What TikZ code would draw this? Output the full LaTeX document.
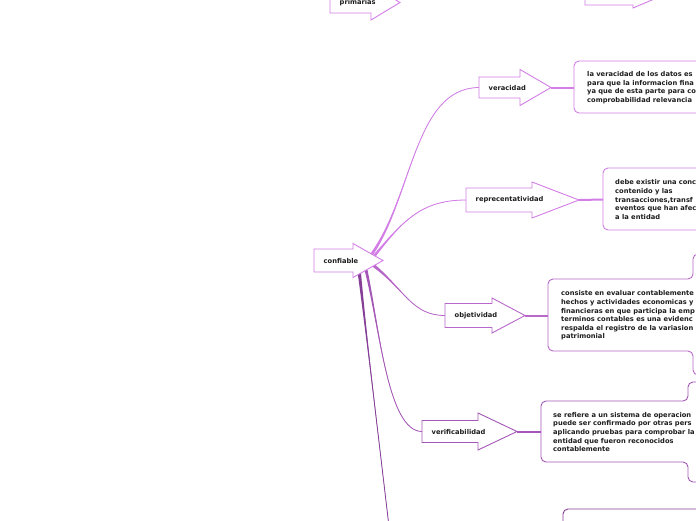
\documentclass[tikz,border=0pt]{standalone}
\usepackage{fontspec}
\newfontfamily\lblfont{DejaVu Sans}
\usetikzlibrary{calc}
\pgfdeclarelayer{bg}
\pgfsetlayers{bg,main}
\definecolor{cA}{HTML}{D27EE6}
\definecolor{cB}{HTML}{B868C8}
\definecolor{cC}{HTML}{A457B6}
\definecolor{cD}{HTML}{853F96}
\definecolor{txt}{HTML}{1E1E1E}
\tikzset{
 lbl/.style={font=\lblfont\bfseries\fontsize{6.7}{8.6}\selectfont, text=txt, inner sep=0pt, anchor=west, align=left},
 shp/.style={line width=0.9pt, fill=white, line join=miter},
 boxline/.style={line width=0.9pt, rounded corners=5pt},
 stub/.style={line width=2pt},
}
\newcommand\arrowbox[9]{%
 \draw[shp, draw=#2] (#3,#6-#7) -- (#4,#6-#7) -- (#4,#6-#8) -- (#5,#6) -- (#4,#6+#8) -- (#4,#6+#7) -- (#3,#6+#7) -- cycle;
 \node[lbl] (#1) at (#3+9.5,#6) {#9};
 \coordinate (#1-w) at (#3,#6);
 \coordinate (#1-e) at (#5,#6);
}
\newcommand\taper[6]{%
 \fill[fill=#1] ($#2+#6$) .. controls #3 and #4 .. #5 .. controls #4 and #3 .. ($#2-#6$) -- cycle;
 \draw[draw=#1, line width=0.8pt] #2 .. controls #3 and #4 .. #5;
}
\begin{document}
\begin{tikzpicture}[x=1pt,y=-1pt]
\useasboundingbox (0,0) rectangle (696,520);
\clip (0,0) rectangle (696,520);
\begin{pgfonlayer}{bg}
\fill[white] (0,0) rectangle (696,520);
\end{pgfonlayer}

% partial shapes at the top
\arrowbox{primarias}{cA}{330}{371}{400}{2.5}{10.5}{17.5}{primarias}
\draw[shp, draw=cA] (585,-25) -- (585,5) -- (633,5) -- (633,8) -- (666,-6);

% main arrows
\arrowbox{confiable}{cA}{314}{353}{383}{260.5}{11.5}{17}{confiable}
\arrowbox{veracidad}{cA}{479}{520}{551}{87.5}{10.5}{18}{veracidad}
\arrowbox{reprec}{cA}{466}{532}{579}{200}{12}{18}{reprecentatividad}
\arrowbox{objet}{cB}{445}{492}{525}{315.5}{12}{17.5}{objetividad}
\arrowbox{verif}{cC}{422}{478}{517}{431.5}{11}{18.5}{verificabilidad}

% text boxes
\draw[boxline, draw=cA] (720,61) -- (574,61) -- (574,113) -- (720,113);
\coordinate (vbox) at (574,87.5);
\node[lbl] (vtext) at (587,87.5) {la veracidad de los datos es\\para que la informacion fina\\ya que de esta parte para co\\comprobabilidad relevancia};

\draw[boxline, draw=cA] (720,168) -- (603,168) -- (603,230) -- (720,230);
\coordinate (rbox) at (603,199.5);
\node[lbl] (rtext) at (615,199.5) {debe existir una conc\\contenido y las\\transacciones,transf\\eventos que han afec\\a la entidad};

\draw[boxline, draw=cB] (702,254) -- (693,254) -- (693,279) -- (548,279) -- (548,351) -- (693,351) -- (693,375) -- (702,375);
\coordinate (obox) at (548,315.5);
\node[lbl] (otext) at (561,315.5) {consiste en evaluar contablemente\\hechos y actividades economicas y\\financieras en que participa la emp\\terminos contables es una evidenc\\respalda el registro de la variasion\\patrimonial};

\draw[boxline, draw=cC] (702,382) -- (688,382) -- (688,401) -- (541,401) -- (541,462) -- (688,462) -- (688,482) -- (702,482);
\coordinate (fbox) at (541,431.5);
\node[lbl] (ftext) at (553,432) {se refiere a un sistema de operacion\\puede ser confirmado por otras pers\\aplicando pruebas para comprobar la\\entidad que fueron reconocidos\\contablemente};

\draw[boxline, draw=cD] (720,509) -- (563,509) -- (563,540);
\coordinate (bend) at (390,535);

% connectors
\begin{pgfonlayer}{bg}
\coordinate (s1) at (369,258);
\coordinate (s2) at (371,260);
\coordinate (s3) at (373,265);
\coordinate (s4) at (366,270);
\coordinate (s5) at (359,270);
\taper{cA}{(s1)}{(413,200)}{(413,88)}{(veracidad-w)}{(1.3,0.9)}
\taper{cA}{(s2)}{(402,222)}{(420,200)}{(reprec-w)}{(0.9,1.3)}
\taper{cB}{(s3)}{(405,290)}{(412,315.5)}{(objet-w)}{(-0.9,1.3)}
\taper{cC}{(s4)}{(380,330)}{(388,431.5)}{(verif-w)}{(1.5,0)}
\taper{cD}{(s5)}{(368,350)}{(380,450)}{(bend)}{(1.7,0)}
\draw[stub, draw=cA] (veracidad-e) -- (vbox);
\draw[stub, draw=cA] (reprec-e) -- (rbox);
\draw[stub, draw=cB] (objet-e) -- (obox);
\draw[stub, draw=cC] (verif-e) -- (fbox);
\end{pgfonlayer}
\end{tikzpicture}
\end{document}
